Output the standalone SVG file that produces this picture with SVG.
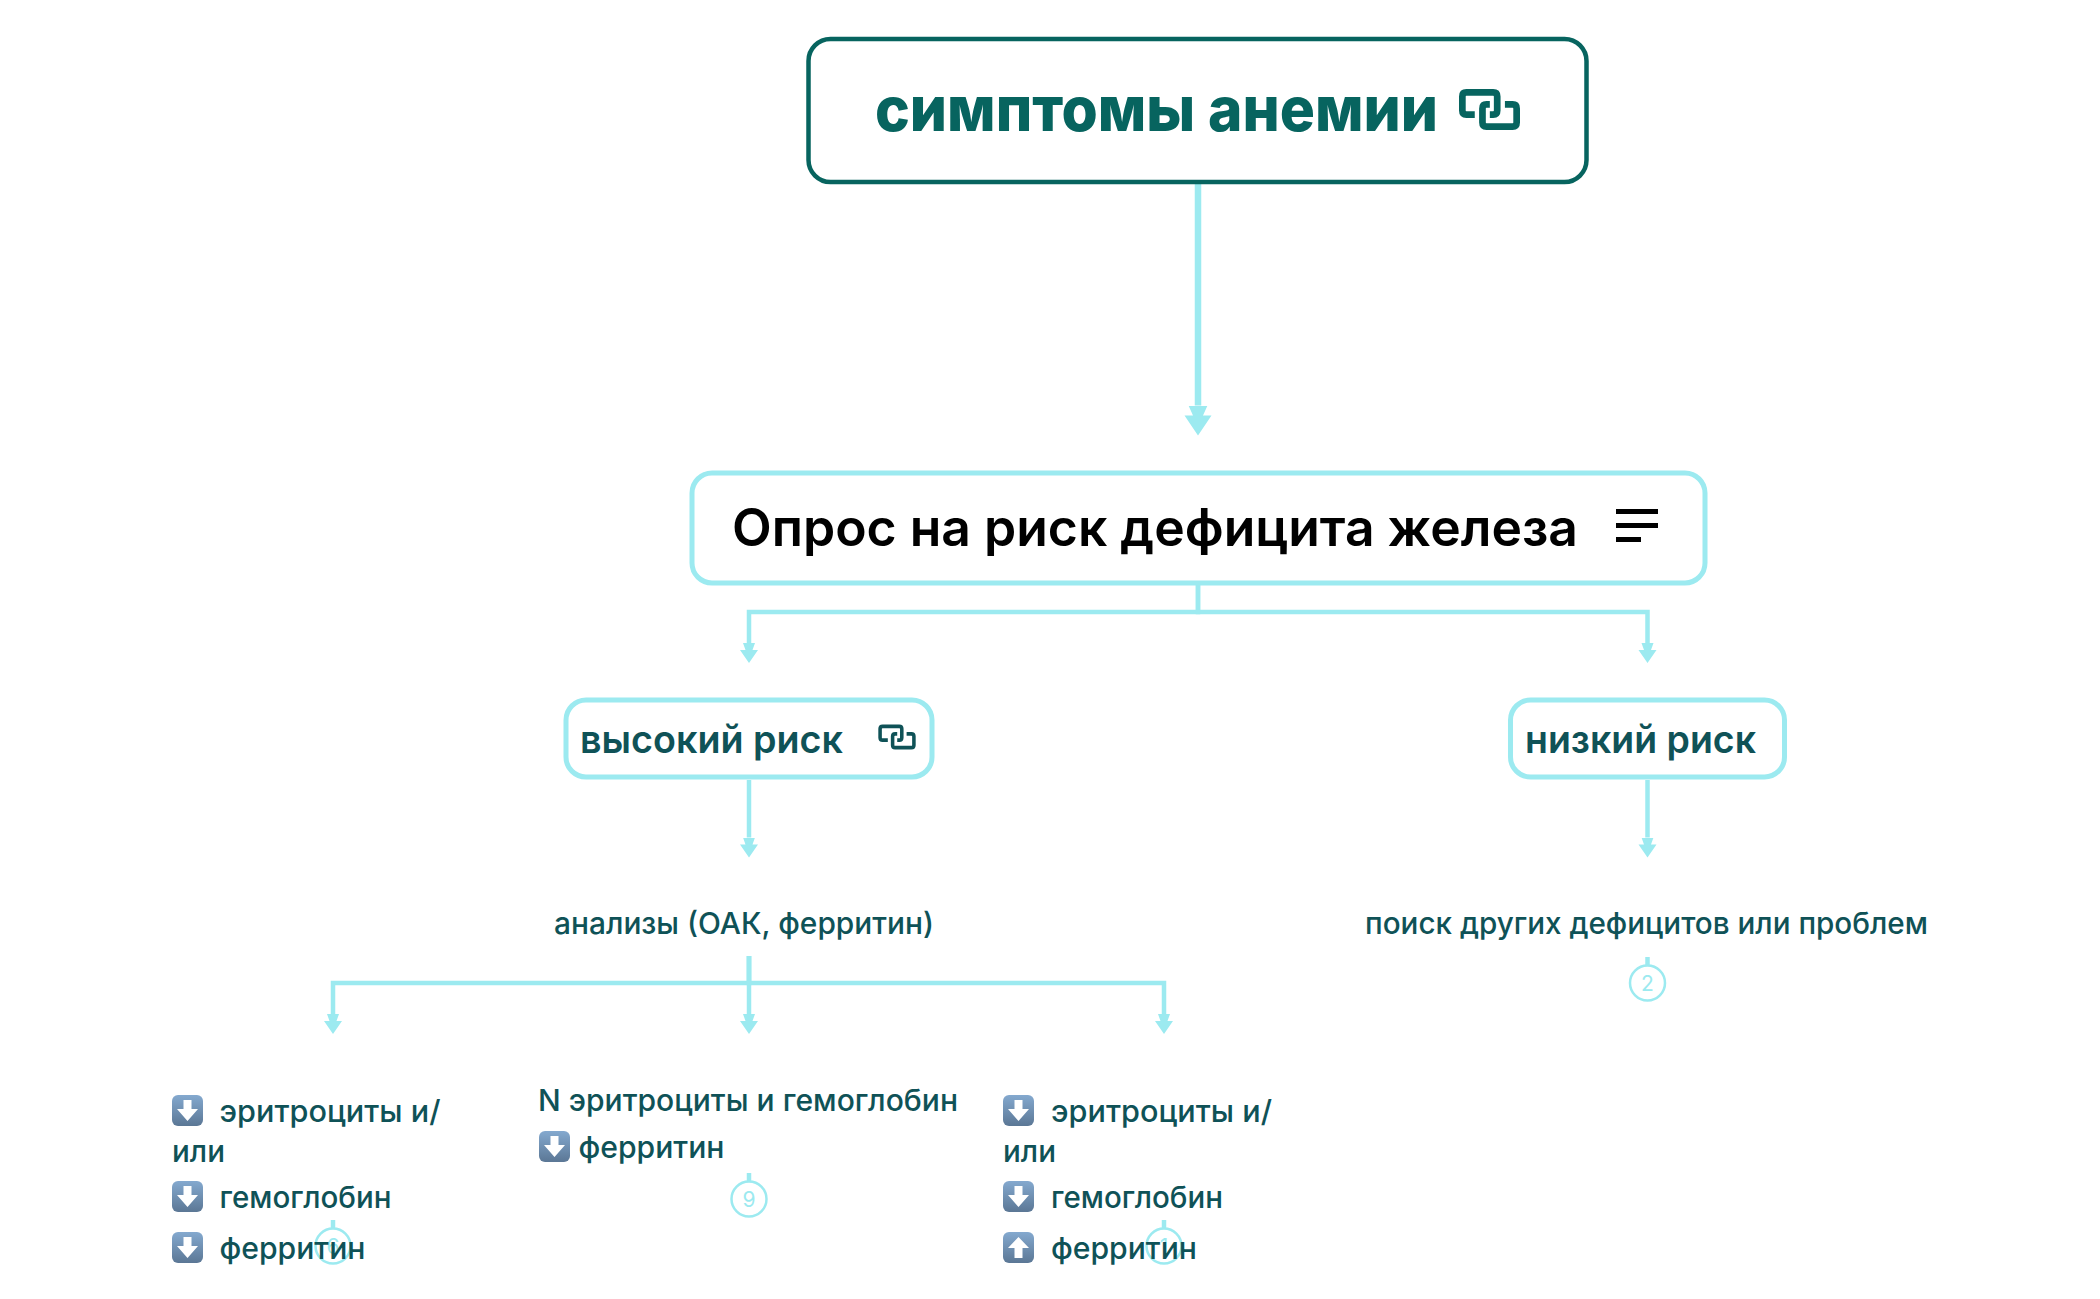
<svg xmlns="http://www.w3.org/2000/svg" width="2100" height="1299" viewBox="0 0 2100 1299">
<style>
text{font-family:Inter,"Noto Sans","Liberation Sans",sans-serif}
.box{fill:#fff;stroke:#9ceaf0;stroke-width:5}
.c{fill:none;stroke:#9ceaf0;stroke-width:4.5}
.t{fill:#0f5257;font-size:30px;font-weight:500}
.m{fill:#0f5257;font-size:38px;font-weight:600}
.b{fill:#9ceaf0;font-size:21px;text-anchor:middle}
.o{fill:#fff;stroke:#9ceaf0;stroke-width:2.5}
</style>
<defs>
<linearGradient id="eg" x1="0" y1="0" x2="0" y2="1"><stop offset="0" stop-color="#84a9cf"/><stop offset="1" stop-color="#5b7795"/></linearGradient>
<marker id="as" markerUnits="userSpaceOnUse" markerWidth="22" markerHeight="20" refX="0" refY="10" orient="auto" viewBox="0 0 22 20"><polygon fill="#9ceaf0" points="0,4 7,6.5 7,1 20,10 7,19 7,13.5 0,16"/></marker>
<marker id="ab" markerUnits="userSpaceOnUse" markerWidth="32" markerHeight="30" refX="0" refY="15" orient="auto" viewBox="0 0 32 30"><polygon fill="#9ceaf0" points="0,5.5 10,10 10,1.500 30,15 10,28.500 10,20 0,24.500"/></marker>
<symbol id="link" viewBox="58 58 182 122"><path fill="none" stroke="#07645f" stroke-width="20" stroke-linejoin="round" d="M105 134H80Q68 134 68 122V80Q68 68 80 68H160Q172 68 172 80V122Q172 134 160 134H150M195 104H218Q230 104 230 116V158Q230 170 218 170H140Q128 170 128 158V116Q128 104 140 104H150"/></symbol>
<symbol id="link2" viewBox="58 58 182 122"><path fill="none" stroke="#0f5257" stroke-width="17" stroke-linejoin="round" d="M105 134H80Q68 134 68 122V80Q68 68 80 68H160Q172 68 172 80V122Q172 134 160 134H150M195 104H218Q230 104 230 116V158Q230 170 218 170H140Q128 170 128 158V116Q128 104 140 104H150"/></symbol>
<symbol id="dn" viewBox="0 0 31 31"><rect width="31" height="31" rx="6" fill="url(#eg)"/><polygon fill="#fff" points="11.500,5 19.500,5 19.500,14 26,14 15.500,26 5,14 11.500,14"/></symbol>
<symbol id="up" viewBox="0 0 31 31"><rect width="31" height="31" rx="6" fill="url(#eg)"/><polygon fill="#fff" points="11.500,26 19.500,26 19.500,16 26,16 15.500,5 5,16 11.500,16"/></symbol>
</defs>
<g id="connectors">
<path d="M1198 184V405.500" fill="none" stroke="#9ceaf0" stroke-width="6.500" marker-end="url(#ab)"/>
<path class="c" d="M1198 585V612H749V643" marker-end="url(#as)"/>
<path class="c" d="M1198 585V612H1647.500V643" marker-end="url(#as)"/>
<path class="c" d="M749 780V837.500" marker-end="url(#as)"/>
<path class="c" d="M1647.500 780V837.500" marker-end="url(#as)"/>
<path class="c" d="M749 956V983H333V1014" marker-end="url(#as)"/>
<path class="c" d="M749 956V1014" marker-end="url(#as)"/>
<path class="c" d="M749 956V983H1164V1014" marker-end="url(#as)"/>
<path class="c" d="M1647.500 957V966"/>
<path class="c" d="M749 1173V1182"/>
<path class="c" d="M333 1220V1229"/>
<path class="c" d="M1164 1220V1229"/>
</g>
<g id="node-top">
<rect x="808.500" y="39" width="778" height="143" rx="22" fill="#fff" stroke="#07645f" stroke-width="4.500"/>
<text x="875" y="131" font-size="62" font-weight="800" fill="#07645f" textLength="563" lengthAdjust="spacingAndGlyphs">симптомы анемии</text>
<use href="#link" x="1459" y="89" width="61" height="41"/>
</g>
<g id="node-survey">
<rect class="box" x="692" y="473" width="1013" height="110" rx="20"/>
<text x="732" y="546" font-size="52" font-weight="600" fill="#000" textLength="846" lengthAdjust="spacingAndGlyphs">Опрос на риск дефицита железа</text>
<rect x="1616" y="509" width="42" height="5" fill="#000"/>
<rect x="1616" y="523" width="42" height="5" fill="#000"/>
<rect x="1616" y="537" width="25" height="5" fill="#000"/>
</g>
<g id="node-high">
<rect class="box" x="566" y="700" width="366" height="77" rx="20"/>
<text class="m" x="580" y="753" textLength="263" lengthAdjust="spacingAndGlyphs">высокий риск</text>
<use href="#link2" x="878" y="724" width="38" height="26"/>
</g>
<g id="node-low">
<rect class="box" x="1510.500" y="700" width="274" height="77" rx="20"/>
<text class="m" x="1525" y="753" textLength="231" lengthAdjust="spacingAndGlyphs">низкий риск</text>
</g>
<g id="node-tests">
<text class="t" x="554" y="934" textLength="380" lengthAdjust="spacingAndGlyphs">анализы (ОАК, ферритин)</text>
</g>
<g id="node-search">
<text class="t" x="1365" y="934" textLength="563" lengthAdjust="spacingAndGlyphs">поиск других дефицитов или проблем</text>
<circle class="o" cx="1647.500" cy="983" r="17.500"/>
<text class="b" x="1647.500" y="990.500">2</text>
</g>
<g id="node-col1">
<circle class="o" cx="333" cy="1246" r="17.500"/>
<text class="b" x="333" y="1253.500">6</text>
<use href="#dn" x="172" y="1095" width="31" height="31"/>
<text class="t" x="219.500" y="1122" textLength="221" lengthAdjust="spacingAndGlyphs">эритроциты и/</text>
<text class="t" x="172" y="1162" textLength="53" lengthAdjust="spacingAndGlyphs">или</text>
<use href="#dn" x="172" y="1181" width="31" height="31"/>
<text class="t" x="219.500" y="1208" textLength="172" lengthAdjust="spacingAndGlyphs">гемоглобин</text>
<use href="#dn" x="172" y="1232" width="31" height="31"/>
<text class="t" x="219.500" y="1259" textLength="146" lengthAdjust="spacingAndGlyphs">ферритин</text>
</g>
<g id="node-col2">
<text class="t" x="538" y="1111" textLength="420" lengthAdjust="spacingAndGlyphs">N эритроциты и гемоглобин</text>
<use href="#dn" x="539" y="1131" width="31" height="31"/>
<text class="t" x="578.500" y="1158" textLength="146" lengthAdjust="spacingAndGlyphs">ферритин</text>
<circle class="o" cx="749" cy="1199" r="17.500"/>
<text class="b" x="749" y="1206.500">9</text>
</g>
<g id="node-col3">
<circle class="o" cx="1164" cy="1246" r="17.500"/>
<text class="b" x="1164" y="1253.500">1</text>
<use href="#dn" x="1003" y="1095" width="31" height="31"/>
<text class="t" x="1051" y="1122" textLength="221" lengthAdjust="spacingAndGlyphs">эритроциты и/</text>
<text class="t" x="1003" y="1162" textLength="53" lengthAdjust="spacingAndGlyphs">или</text>
<use href="#dn" x="1003" y="1181" width="31" height="31"/>
<text class="t" x="1051" y="1208" textLength="172" lengthAdjust="spacingAndGlyphs">гемоглобин</text>
<use href="#up" x="1003" y="1232" width="31" height="31"/>
<text class="t" x="1051" y="1259" textLength="146" lengthAdjust="spacingAndGlyphs">ферритин</text>
</g>
</svg>
